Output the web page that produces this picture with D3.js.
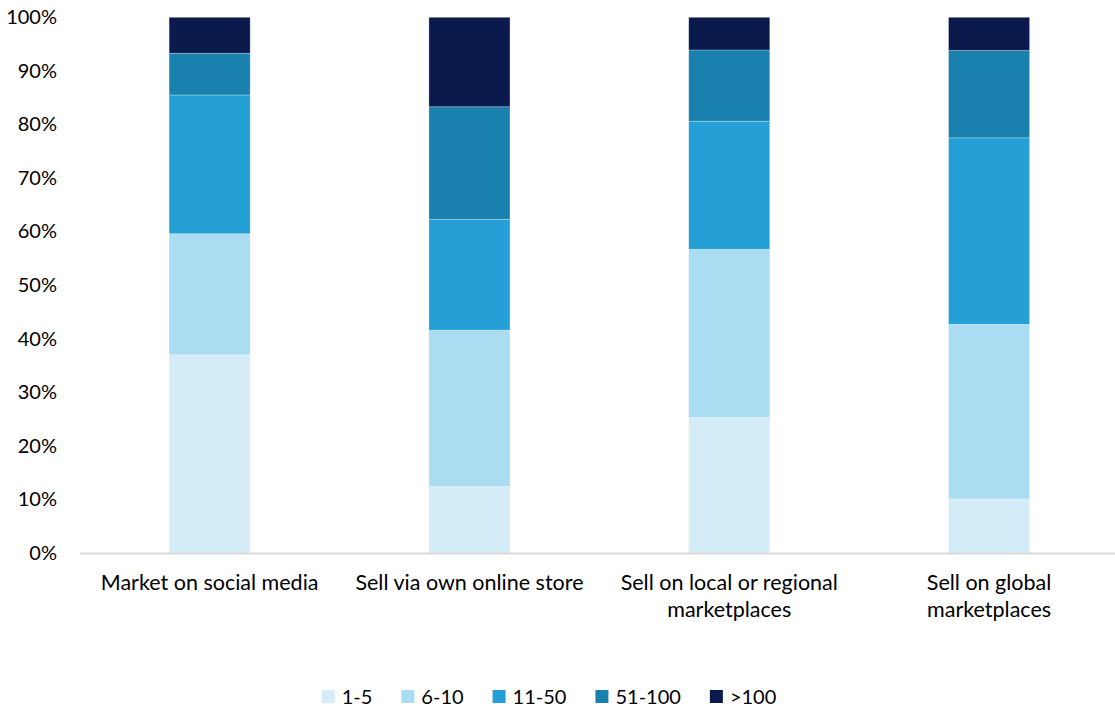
<!DOCTYPE html>
<html>
<head>
<meta charset="utf-8">
<script src="https://cdn.jsdelivr.net/npm/d3@7"></script>
<style>
  html, body { margin: 0; padding: 0; background: #fff; }
  svg { display: block; font-family: Lato, "Open Sans", sans-serif; }
</style>
</head>
<body>
<svg id="chart" width="1115" height="713"></svg>
<script>
// Categories (line breaks mark where the axis label wraps)
const categories = [
  "Market on social media",
  "Sell via own online store",
  "Sell on local or regional\nmarketplaces",
  "Sell on global\nmarketplaces"
];

// Size bands (series) and their share of each category, in percent
const seriesNames = ["1-5", "6-10", "11-50", "51-100", ">100"];
const share_1_5    = [37.0, 12.4, 25.3, 10.1];
const share_6_10   = [22.6, 29.2, 31.4, 32.6];
const share_11_50  = [25.9, 20.7, 23.9, 34.8];
const share_51_100 = [7.8, 21.0, 13.3, 16.3];
const share_gt100  = [6.7, 16.7, 6.1, 6.2];

const yTicks = [0, 10, 20, 30, 40, 50, 60, 70, 80, 90, 100];
const colors = ["#d4ecf8", "#aadcf2", "#24a0d6", "#1a80ad", "#0a1a4d"];

const seriesValues = [share_1_5, share_6_10, share_11_50, share_51_100, share_gt100];
const rows = categories.map((c, i) => {
  const r = { category: c };
  seriesNames.forEach((s, k) => { r[s] = seriesValues[k][i]; });
  return r;
});

const svg = d3.select("#chart");
const margin = { left: 80, top: 17, bottom: 160 };
const width = 1115, height = 713;

const x = d3.scaleBand()
  .domain(categories)
  .range([margin.left, 1118.7])
  .paddingInner(0.688)
  .paddingOuter(0.343);

const y = d3.scaleLinear()
  .domain([0, 100])
  .range([553, 17.3]);

const stack = d3.stack().keys(seriesNames);
const stacked = stack(rows);
const color = d3.scaleOrdinal().domain(seriesNames).range(colors);

// Stacked bars
svg.append("g")
  .selectAll("g")
  .data(stacked)
  .join("g")
  .attr("fill", d => color(d.key))
  .selectAll("rect")
  .data(d => d)
  .join("rect")
  .attr("x", d => x(d.data.category))
  .attr("width", x.bandwidth())
  .attr("y", d => y(d[1]))
  .attr("height", d => y(d[0]) - y(d[1]))
  .attr("stroke", "#ffffff")
  .attr("stroke-opacity", 0.35)
  .attr("stroke-width", 0.75);

// Y axis (labels only)
const yAxis = svg.append("g")
  .attr("transform", `translate(${margin.left},0)`)
  .call(d3.axisLeft(y).tickValues(yTicks).tickFormat(d => d + "%").tickSize(0).tickPadding(23));
yAxis.select(".domain").remove();
yAxis.selectAll("text")
  .attr("font-size", 20)
  .attr("fill", "#000")
  .attr("font-family", "Lato, sans-serif");

// Baseline
svg.append("line")
  .attr("x1", margin.left).attr("x2", width)
  .attr("y1", y(0) + 0.5).attr("y2", y(0) + 0.5)
  .attr("stroke", "#d9d9d9")
  .attr("stroke-width", 2);

// Category labels
const xLabels = svg.append("g")
  .selectAll("text")
  .data(categories)
  .join("text")
  .attr("x", d => x(d) + x.bandwidth() / 2)
  .attr("y", 590)
  .attr("text-anchor", "middle")
  .attr("font-size", 21.5)
  .attr("fill", "#000");
xLabels.each(function(d) {
  const t = d3.select(this);
  const cx = x(d) + x.bandwidth() / 2;
  d.split("\n").forEach((line, i) => {
    t.append("tspan").attr("x", cx).attr("dy", i === 0 ? 0 : 27).text(line);
  });
});

// Legend
const legend = svg.append("g").attr("transform", "translate(0,697)");
const items = legend.selectAll("g")
  .data(seriesNames)
  .join("g");
items.append("rect")
  .attr("width", 13).attr("height", 13)
  .attr("y", -7)
  .attr("fill", d => color(d));
items.append("text")
  .attr("x", 20)
  .attr("y", 0)
  .attr("dy", "0.35em")
  .attr("font-size", 20)
  .attr("fill", "#000")
  .text(d => d);

let cursor = 0;
const positions = [];
items.each(function() {
  const w = this.getBBox().width;
  positions.push(cursor);
  cursor += w + 29;
});
const totalW = cursor - 29;
const startX = 549 - totalW / 2;
items.attr("transform", (d, i) => `translate(${startX + positions[i]},0)`);
</script>
</body>
</html>
